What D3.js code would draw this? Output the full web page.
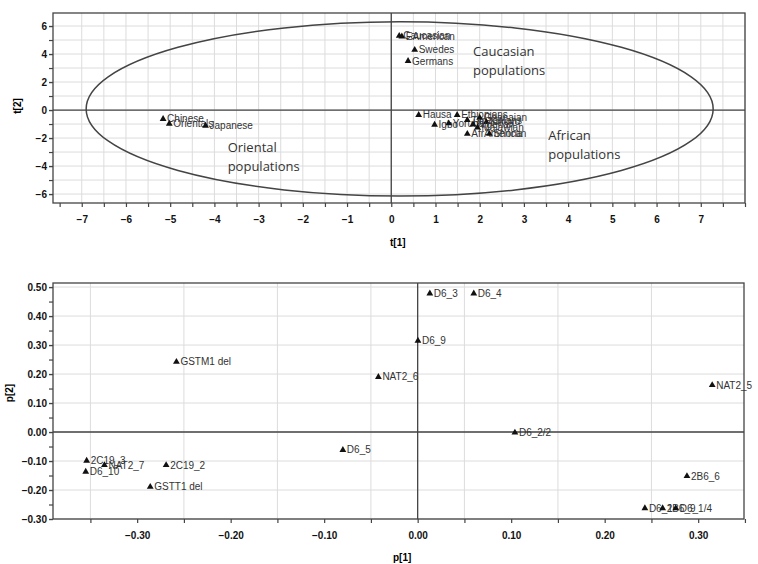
<!DOCTYPE html>
<html><head><meta charset="utf-8">
<script src="https://cdn.jsdelivr.net/npm/d3@7"></script>
<style>body{margin:0;background:#fff}</style>
</head><body>
<svg id="c" width="758" height="564"></svg>
<script>
// ---- Data: top score plot (t[1], t[2]) ----
const scoreNames = ["Caucasian","EAmerican","Swedes","Germans","Hausa","Ethiopians","Igbo","Yoruba","Tanzanians","Ghanaian","Kikuyu","Nigerian","Malawian","AfrAmerican","Shona","Chinese","Orientals","Japanese"];
const scoreT1 = [0.18,0.24,0.53,0.38,0.62,1.49,0.98,1.3,1.72,2.0,2.15,1.85,1.95,1.72,2.22,-5.16,-5.02,-4.2];
const scoreT2 = [5.3,5.25,4.3,3.5,-0.35,-0.35,-1.05,-0.95,-0.72,-0.55,-0.85,-1.02,-1.25,-1.7,-1.7,-0.64,-0.98,-1.12];
const t1Ticks = [-7,-6,-5,-4,-3,-2,-1,0,1,2,3,4,5,6,7];
const t2Ticks = [-6,-4,-2,0,2,4,6];
const ellipse = {cx:0.19, cy:0.08, rx:7.09, ry:6.22};
const groupLabels = [
  {lines:["Caucasian","populations"], x:1.85, y:3.85},
  {lines:["Oriental","populations"], x:-3.7, y:-3.0},
  {lines:["African","populations"], x:3.55, y:-2.15}
];
// ---- Data: bottom loading plot (p[1], p[2]) ----
const loadNames = ["D6_3","D6_4","D6_9","NAT2_6","NAT2_5","D6_2/2","2B6_6","D6_1","2B6_9","D6_1/4","GSTM1 del","D6_5","2C19_3","D6_10","NAT2_7","2C19_2","GSTT1 del"];
const loadP1 = [0.013,0.060,0.0003,-0.042,0.315,0.104,0.288,0.243,0.262,0.276,-0.258,-0.080,-0.354,-0.355,-0.335,-0.269,-0.286];
const loadP2 = [0.478,0.478,0.315,0.19,0.162,-0.002,-0.152,-0.263,-0.263,-0.263,0.242,-0.062,-0.099,-0.137,-0.114,-0.114,-0.189];
const p1Ticks = [-0.30,-0.20,-0.10,0.00,0.10,0.20,0.30];
const p2Ticks = [-0.30,-0.20,-0.10,0.00,0.10,0.20,0.30,0.40,0.50];

const svg = d3.select("#c");
const tickFont = "bold 10px Arial, 'Liberation Sans', sans-serif";
const labFont = "10px Arial, 'Liberation Sans', sans-serif";

function panel(o){
  const g = svg.append("g");
  const x = d3.scaleLinear().domain(o.xd).range([o.l,o.r]);
  const y = d3.scaleLinear().domain(o.yd).range([o.b,o.t]);
  g.selectAll(".vg").data(o.vgrid).join("line")
    .attr("x1",d=>x(d)).attr("x2",d=>x(d)).attr("y1",o.t).attr("y2",o.b)
    .attr("stroke","#dcdcdc").attr("stroke-width",1);
  g.selectAll(".hg").data(o.hgrid).join("line")
    .attr("y1",d=>y(d)).attr("y2",d=>y(d)).attr("x1",o.l).attr("x2",o.r)
    .attr("stroke","#dcdcdc").attr("stroke-width",1);
  g.append("rect").attr("x",o.l).attr("y",o.t).attr("width",o.r-o.l).attr("height",o.b-o.t)
    .attr("fill","none").attr("stroke","#444").attr("stroke-width",1.3);
  g.append("line").attr("x1",x(0)).attr("x2",x(0)).attr("y1",o.t).attr("y2",o.b).attr("stroke","#444").attr("stroke-width",1.3);
  g.append("line").attr("y1",y(0)).attr("y2",y(0)).attr("x1",o.l).attr("x2",o.r).attr("stroke","#444").attr("stroke-width",1.3);
  const xa = d3.axisBottom(x).tickValues(o.xminor).tickSize(4).tickFormat("");
  const xl = d3.axisBottom(x).tickValues(o.xt).tickSize(0).tickPadding(13).tickFormat(o.xf);
  const ya = d3.axisLeft(y).tickValues(o.yminor).tickSize(4).tickFormat("");
  const yl = d3.axisLeft(y).tickValues(o.yt).tickSize(4).tickPadding(2).tickFormat(o.yf);
  [xa,xl].forEach(a=>{
    const ag = g.append("g").attr("transform",`translate(0,${o.b})`).call(a);
    ag.select(".domain").remove();
    ag.selectAll("line").attr("stroke","#444").attr("stroke-width",1.2);
    ag.selectAll("text").style("font",tickFont).attr("fill","#111");
  });
  [ya,yl].forEach(a=>{
    const ag = g.append("g").attr("transform",`translate(${o.l},0)`).call(a);
    ag.select(".domain").remove();
    ag.selectAll("line").attr("stroke","#444").attr("stroke-width",1.2);
    ag.selectAll("text").style("font",tickFont).attr("fill","#111");
  });
  return {g,x,y};
}

const topP = panel({l:53,r:745,t:13,b:203,xd:[-7.65,8.0],yd:[-6.64,6.93],
  vgrid:d3.range(-7,8.01,0.5), hgrid:d3.range(-6,7,1),
  xminor:d3.range(-7.5,8.01,0.5), xt:t1Ticks, xf:d3.format("d"),
  yminor:d3.range(-6,7,1), yt:t2Ticks, yf:d3.format("d")});
topP.g.append("ellipse")
  .attr("cx",topP.x(ellipse.cx)).attr("cy",topP.y(ellipse.cy))
  .attr("rx",topP.x(ellipse.cx+ellipse.rx)-topP.x(ellipse.cx))
  .attr("ry",topP.y(ellipse.cy-ellipse.ry)-topP.y(ellipse.cy))
  .attr("fill","none").attr("stroke","#444").attr("stroke-width",1.5);

function points(p, xs, ys, names){
  const tri = d3.symbol().type(d3.symbolTriangle).size(20);
  const gg = p.g.append("g");
  names.forEach((n,i)=>{
    gg.append("path").attr("d",tri).attr("transform",`translate(${p.x(xs[i])},${p.y(ys[i])})`).attr("fill","#111");
    gg.append("text").attr("x",p.x(xs[i])+4).attr("y",p.y(ys[i])+3.5).text(n)
      .style("font",labFont).attr("fill","#333");
  });
}
points(topP, scoreT1, scoreT2, scoreNames);

groupLabels.forEach(gl=>{
  const t = topP.g.append("text").attr("x",topP.x(gl.x)).attr("y",topP.y(gl.y))
    .style("font","13px 'Open Sans', sans-serif").attr("fill","#333");
  gl.lines.forEach((ln,i)=>t.append("tspan").attr("x",topP.x(gl.x)).attr("dy",i?19:0).text(ln));
});

svg.append("text").attr("transform","translate(21,106) rotate(-90)").attr("text-anchor","middle")
  .style("font",tickFont).text("t[2]");
svg.append("text").attr("x",390).attr("y",246).style("font",tickFont).text("t[1]");

const botP = panel({l:53,r:744,t:283,b:519,xd:[-0.39,0.349],yd:[-0.30,0.514],
  vgrid:[-0.35,-0.25,-0.15,-0.05,0.05,0.15,0.25], hgrid:p2Ticks,
  xminor:d3.range(-0.35,0.351,0.05), xt:p1Ticks, xf:d3.format(".2f"),
  yminor:d3.range(-0.30,0.51,0.05), yt:p2Ticks, yf:d3.format(".2f")});
points(botP, loadP1, loadP2, loadNames);

svg.append("text").attr("transform","translate(13,393) rotate(-90)").attr("text-anchor","middle")
  .style("font",tickFont).text("p[2]");
svg.append("text").attr("x",393).attr("y",561).style("font",tickFont).text("p[1]");
</script>
</body></html>
